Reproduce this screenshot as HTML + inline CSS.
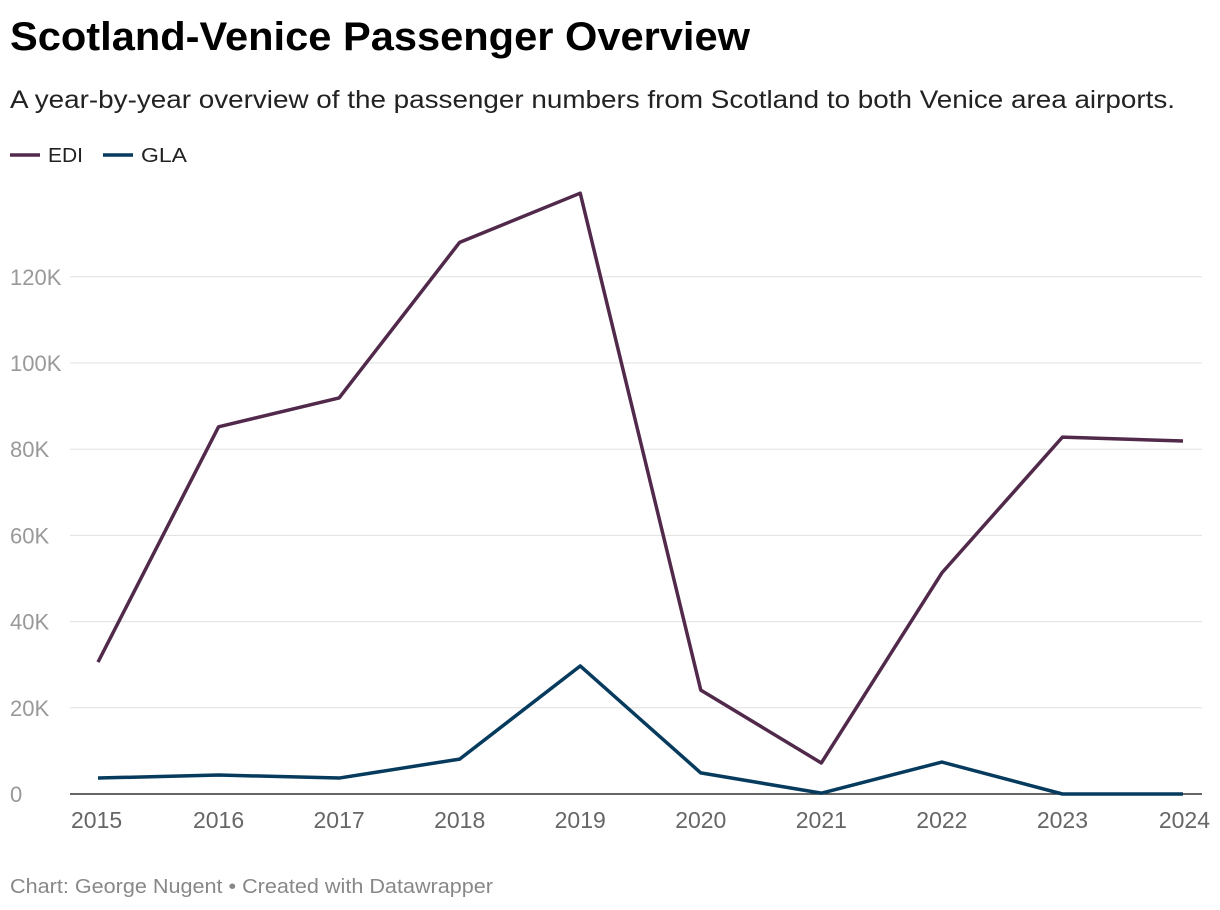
<!DOCTYPE html>
<html><head><meta charset="utf-8"><style>
body{margin:0;background:#fff;font-family:"Liberation Sans",sans-serif;}
svg{display:block}
</style></head><body>
<svg width="1220" height="910" xmlns="http://www.w3.org/2000/svg">
<text x="10" y="50" font-size="40" font-weight="bold" fill="#000" textLength="740" lengthAdjust="spacingAndGlyphs">Scotland-Venice Passenger Overview</text>
<text x="10" y="108" font-size="25" fill="#222" textLength="1165" lengthAdjust="spacingAndGlyphs">A year-by-year overview of the passenger numbers from Scotland to both Venice area airports.</text>
<g>
<g><line x1="10" y1="155" x2="40" y2="155" stroke="#51294b" stroke-width="3.5"/><text x="48" y="162" font-size="20" fill="#222" textLength="35" lengthAdjust="spacingAndGlyphs">EDI</text></g>
<g><line x1="103" y1="155" x2="133" y2="155" stroke="#063b5e" stroke-width="3.5"/><text x="141" y="162" font-size="20" fill="#222" textLength="46" lengthAdjust="spacingAndGlyphs">GLA</text></g>
</g>
<g id="grid"></g>
<g id="yticks"></g>
<g id="xticks"></g>
<g id="lines"></g>
<text x="10" y="893" font-size="20" fill="#888" textLength="483" lengthAdjust="spacingAndGlyphs">Chart: George Nugent • Created with Datawrapper</text>
</svg>
<script>
const years = [2015,2016,2017,2018,2019,2020,2021,2022,2023,2024];
const edi = [30.6,85.2,91.9,128,139.4,24.1,7.2,51.3,82.8,81.9];
const gla = [3.7,4.4,3.7,8.1,29.7,4.9,0.2,7.4,0,0];
const yTicks = [0,20,40,60,80,100,120];
const yTickLabels = ["0","20K","40K","60K","80K","100K","120K"];
const NS="http://www.w3.org/2000/svg";
function xs(i){return 98+(1183-98)*i/(years.length-1);}
function ys(v){return 794-v*4.31;}
function mk(tag,attrs,parent,text){const e=document.createElementNS(NS,tag);for(const k in attrs)e.setAttribute(k,attrs[k]);if(text!=null)e.textContent=text;document.getElementById(parent).appendChild(e);return e;}
yTicks.forEach((t,i)=>{
  const g=mk('line',{x1:70,x2:1202,y1:ys(t),y2:ys(t),stroke:t===0?'#333':'#e0e0e0','stroke-width':t===0?1.5:1},'grid');
  
  
  const l=mk('text',{x:10,y:ys(t)+8,'font-size':22,fill:'#999'},'yticks',yTickLabels[i]);
  
  
});
years.forEach((y,i)=>{
  const anchor=i===0?'start':(i===years.length-1?'end':'middle');
  const xx=i===0?71:(i===years.length-1?1210:xs(i));
  const t=mk('text',{x:xx,y:828,'font-size':23,fill:'#666','text-anchor':anchor},'xticks',y);
  
  
});
function line(data,color,name){
  const p=mk('path',{d:data.map((v,i)=>(i?'L':'M')+xs(i)+' '+ys(v)).join(' '),fill:'none',stroke:color,'stroke-width':3.5,'stroke-linejoin':'round'},'lines');
  
  
}
line(gla,'#063b5e','gla-line');
line(edi,'#51294b','edi-line');
</script>
</body></html>
